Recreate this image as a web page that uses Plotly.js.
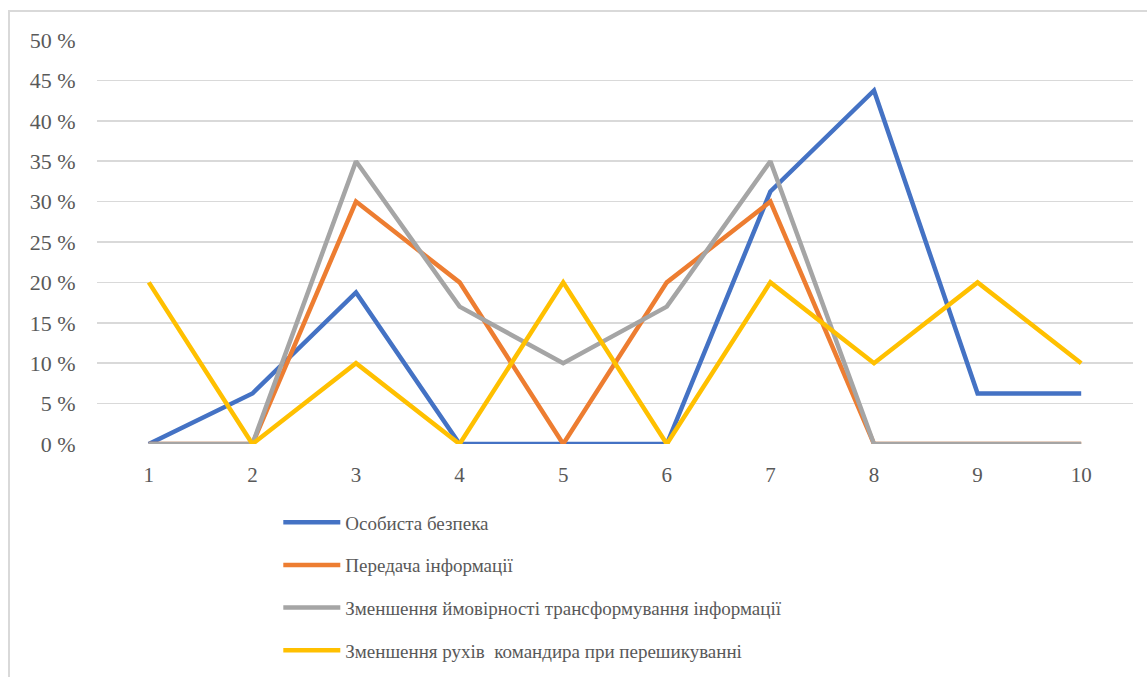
<!DOCTYPE html>
<html>
<head>
<meta charset="utf-8">
<script src="https://cdn.plot.ly/plotly-3.0.1.min.js"></script>
<style>
  html, body { margin: 0; padding: 0; background: #fff; }
  #wrap { position: relative; width: 1147px; height: 677px; overflow: hidden; }
  #chart { width: 1147px; height: 677px; }
  #frame { position: absolute; left: 8px; top: 10px; width: 1200px; height: 700px;
           border: 2px solid #d9d9d9; box-sizing: border-box; pointer-events: none; }
</style>
</head>
<body>
<div id="wrap">
  <div id="chart"></div>
  <div id="frame"></div>
</div>
<script>
const categories = ['1', '2', '3', '4', '5', '6', '7', '8', '9', '10'];
const seriesNames = [
  'Особиста безпека',
  'Передача інформації',
  'Зменшення ймовірності трансформування інформації',
  'Зменшення рухів  командира при перешикуванні'
];
const personalSafety = [0, 6.25, 18.75, 0, 0, 0, 31.25, 43.75, 6.25, 6.25];
const infoTransfer = [0, 0, 30, 20, 0, 20, 30, 0, 0, 0];
const transformReduction = [0, 0, 35, 17, 10, 17, 35, 0, 0, 0];
const commanderMoves = [20, 0, 10, 0, 20, 0, 20, 10, 20, 10];
const yTicks = [0, 5, 10, 15, 20, 25, 30, 35, 40, 45, 50];

const colors = ['#4472C4', '#ED7D31', '#A5A5A5', '#FFC000'];
const values = [personalSafety, infoTransfer, transformReduction, commanderMoves];

const traces = values.map((v, i) => ({
  x: categories,
  y: v,
  type: 'scatter',
  mode: 'lines',
  name: seriesNames[i],
  legendgroup: 'g' + i,
  line: { color: colors[i], width: 4.5 },
  hoverinfo: 'x+y+name'
}));

const font = 'Liberation Serif';

const layout = {
  width: 1147,
  height: 677,
  margin: { l: 97, r: 14, t: 40, b: 233 },
  paper_bgcolor: '#ffffff',
  plot_bgcolor: '#ffffff',
  showlegend: true,
  font: { family: font, size: 21, color: '#595959' },
  xaxis: {
    type: 'category',
    range: [-0.5, 9.5],
    showgrid: false,
    zeroline: false,
    showline: false,
    ticks: 'outside',
    ticklen: 12,
    tickcolor: 'rgba(0,0,0,0)',
    tickfont: { family: font, size: 21, color: '#595959' }
  },
  yaxis: {
    range: [0, 50],
    tickmode: 'array',
    tickvals: yTicks,
    ticktext: yTicks.map(t => t + ' %'),
    showgrid: true,
    gridcolor: '#d9d9d9',
    gridwidth: 1.5,
    zeroline: false,
    showline: false,
    ticks: 'outside',
    ticklen: 16,
    tickcolor: 'rgba(0,0,0,0)',
    tickfont: { family: font, size: 22, color: '#595959' }
  },
  legend: {
    orientation: 'v',
    x: 0.175,
    xanchor: 'left',
    yref: 'container',
    y: 0.2565,
    yanchor: 'top',
    traceorder: 'grouped',
    tracegroupgap: 15,
    itemwidth: 57,
    font: { family: font, size: 19, color: '#595959' },
    bgcolor: 'rgba(0,0,0,0)'
  }
};

Plotly.newPlot('chart', traces, layout, { displayModeBar: false, staticPlot: true });
</script>
</body>
</html>
